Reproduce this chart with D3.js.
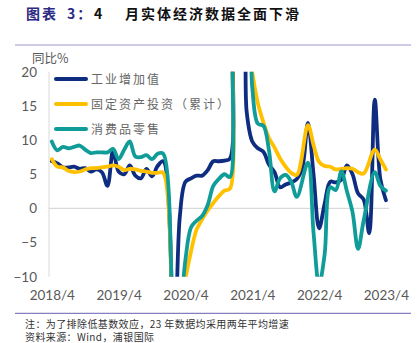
<!DOCTYPE html>
<html>
<head>
<meta charset="utf-8">
<script src="https://cdn.jsdelivr.net/npm/d3@7"></script>
<style>
  html, body { margin: 0; padding: 0; background: #fff; }
  svg { display: block; }
</style>
</head>
<body>
<svg id="chart" width="417" height="343"></svg>
<script>
// Monthly categories, 2018/4 – 2023/4
const months = [
  "2018/4","2018/5","2018/6","2018/7","2018/8","2018/9","2018/10","2018/11","2018/12",
  "2019/1","2019/2","2019/3","2019/4","2019/5","2019/6","2019/7","2019/8","2019/9","2019/10","2019/11","2019/12",
  "2020/1","2020/2","2020/3","2020/4","2020/5","2020/6","2020/7","2020/8","2020/9","2020/10","2020/11","2020/12",
  "2021/1","2021/2","2021/3","2021/4","2021/5","2021/6","2021/7","2021/8","2021/9","2021/10","2021/11","2021/12",
  "2022/1","2022/2","2022/3","2022/4","2022/5","2022/6","2022/7","2022/8","2022/9","2022/10","2022/11","2022/12",
  "2023/1","2023/2","2023/3","2023/4"
];

// 工业增加值 同比 (%)
const industry = [
  6.9, 6.6, 6.0, 6.0, 6.1, 5.8, 5.9, 5.4, 5.7,
  5.3, 3.3, 8.4, 5.4, 5.0, 6.3, 4.8, 4.4, 5.8, 4.7, 6.2, 6.9,
  null, -20.0, -1.1, 3.9, 4.4, 4.8, 4.8, 5.6, 6.9, 6.9, 7.0, 7.3,
  35.1, 35.1, 14.1, 9.8, 8.8, 8.3, 6.4, 5.3, 3.1, 3.5, 3.8, 4.3,
  6.0, 12.5, 5.0, -2.9, 0.7, 3.9, 3.8, 4.2, 6.3, 5.0, 2.2, 1.3,
  -3.6, 15.9, 4.3, 1.2
];

// 固定资产投资（累计）同比 (%)
const investment = [
  7.2, 6.1, 6.0, 5.5, 5.3, 5.4, 5.7, 5.9, 5.9,
  null, 6.1, 6.3, 6.1, 5.6, 5.8, 5.7, 5.5, 5.4, 5.2, 5.2, 5.2,
  null, -24.5, -16.1, -10.3, -6.3, -3.1, -1.6, -0.3, 0.8, 1.8, 2.6, 2.9,
  35.0, 35.0, 25.6, 19.9, 15.4, 12.6, 10.3, 8.9, 7.3, 6.1, 5.2, 4.9,
  null, 12.2, 9.3, 6.8, 6.2, 6.1, 5.7, 5.8, 5.9, 5.8, 5.3, 5.1,
  null, 8.6, 7.2, 5.7
];

// 消费品零售 同比 (%)
const retail = [
  9.8, 8.5, 9.0, 8.8, 9.0, 9.2, 8.6, 8.1, 8.2,
  8.2, 8.2, 8.7, 7.2, 8.6, 9.8, 7.6, 7.5, 7.8, 7.2, 8.0, 8.0,
  null, -20.5, -15.8, -7.5, -2.8, -1.8, -1.1, 0.5, 3.3, 4.3, 5.0, 4.6,
  33.8, 33.8, 34.2, 17.7, 12.4, 12.1, 8.5, 2.5, 4.4, 4.9, 3.9, 1.7,
  null, 6.7, -3.5, -11.1, -6.7, 3.1, 2.7, 5.4, 2.5, -0.5, -5.9, -1.8,
  null, 5.3, 3.3, 2.6
];

const seriesNames = ["工业增加值", "固定资产投资（累计）", "消费品零售"];
const seriesColors = ["#0E2C80", "#FFC000", "#109C98"];
const xTickLabels = ["2018/4", "2019/4", "2020/4", "2021/4", "2022/4", "2023/4"];
const yTicks = [20, 15, 10, 5, 0, -5, -10];

const svg = d3.select("#chart");
const cjk = "'Noto Sans CJK SC', 'Noto Sans', sans-serif";
const latin = "Lato, 'Noto Sans', sans-serif";

const plotLeft = 49, plotRight = 389;
const x = d3.scaleLinear().domain([0, months.length - 1]).range([51.8, 385.9]);
const y = d3.scaleLinear().domain([-10, 20]).range([276.8, 71.7]);

// Title
const title = svg.append("text")
  .attr("y", 19)
  .style("font-family", cjk)
  .style("font-size", "14px")
  .style("font-weight", 700)
  .style("letter-spacing", "2px");
title.append("tspan").attr("x", 26).attr("fill", "#2A2A84").text("图表");
title.append("tspan").attr("x", 67).attr("fill", "#2A2A84").text("3：");
title.append("tspan").attr("x", 94).attr("fill", "#111").text("4");
title.append("tspan").attr("x", 125).attr("fill", "#111").text("月实体经济数据全面下滑");

// Rules above and below the chart
svg.append("line").attr("x1", 15).attr("x2", 411).attr("y1", 45).attr("y2", 45)
  .attr("stroke", "#9C97CB").attr("stroke-width", 1.2);
svg.append("line").attr("x1", 15).attr("x2", 411).attr("y1", 313.3).attr("y2", 313.3)
  .attr("stroke", "#857FBE").attr("stroke-width", 1.2);

// Unit label
svg.append("text").attr("x", 32).attr("y", 63)
  .style("font-family", cjk).style("font-size", "12.5px").attr("fill", "#595959")
  .text("同比%");

// Zero gridline and vertical axis line
svg.append("line")
  .attr("x1", plotLeft).attr("x2", plotRight)
  .attr("y1", y(0)).attr("y2", y(0))
  .attr("stroke", "#D9D9D9").attr("stroke-width", 1.2);
svg.append("line")
  .attr("x1", plotLeft).attr("x2", plotLeft)
  .attr("y1", y(20)).attr("y2", y(-10))
  .attr("stroke", "#D9D9D9").attr("stroke-width", 1);

// Y axis labels
const yAxis = svg.append("g")
  .attr("transform", `translate(${plotLeft},0)`)
  .call(d3.axisLeft(y).tickValues(yTicks).tickSize(0).tickPadding(12));
yAxis.select(".domain").remove();
yAxis.selectAll("text")
  .style("font-family", latin).style("font-size", "13.5px").attr("fill", "#595959");

// X axis labels
const xAxis = svg.append("g")
  .attr("transform", "translate(0,287)")
  .call(d3.axisBottom(x)
    .tickValues(xTickLabels.map(l => months.indexOf(l)))
    .tickFormat(i => months[i])
    .tickSize(0).tickPadding(3.5));
xAxis.select(".domain").remove();
xAxis.selectAll("text")
  .style("font-family", latin).style("font-size", "13.5px").attr("fill", "#595959");

// Plot clip
svg.append("clipPath").attr("id", "plotClip")
  .append("rect")
  .attr("x", plotLeft - 5).attr("y", y(20))
  .attr("width", plotRight - plotLeft + 10).attr("height", y(-10) - y(20));

const line = d3.line()
  .x(d => x(d.i))
  .y(d => y(d.v))
  .curve(d3.curveCatmullRom.alpha(0.5));

const seriesData = [industry, investment, retail];
const linesG = svg.append("g").attr("clip-path", "url(#plotClip)");
seriesData.forEach((vals, k) => {
  const pts = vals.map((v, i) => ({ i, v })).filter(d => d.v != null);
  linesG.append("path")
    .datum(pts)
    .attr("d", line)
    .attr("fill", "none")
    .attr("stroke", seriesColors[k])
    .attr("stroke-width", 3.8)
    .attr("stroke-linejoin", "round")
    .attr("stroke-linecap", "round");
});

// Legend
const legend = svg.append("g");
seriesNames.forEach((name, k) => {
  const ly = 79 + k * 25;
  legend.append("line")
    .attr("x1", 56).attr("x2", 86).attr("y1", ly).attr("y2", ly)
    .attr("stroke", seriesColors[k]).attr("stroke-width", 4)
    .attr("stroke-linecap", "round");
  legend.append("text")
    .attr("x", 91).attr("y", ly + 4.5)
    .style("font-family", cjk).style("font-size", "12px")
    .style("letter-spacing", "2px")
    .attr("fill", "#666")
    .text(name);
});

// Notes
svg.append("text").attr("x", 25).attr("y", 327.5)
  .style("font-family", cjk).style("font-size", "10px").style("letter-spacing", "0.4px")
  .attr("fill", "#333")
  .text("注：为了排除低基数效应，23 年数据均采用两年平均增速");
svg.append("text").attr("x", 25).attr("y", 341)
  .style("font-family", cjk).style("font-size", "10px").style("letter-spacing", "0.4px")
  .attr("fill", "#333")
  .text("资料来源：Wind，浦银国际");
</script>
</body>
</html>
